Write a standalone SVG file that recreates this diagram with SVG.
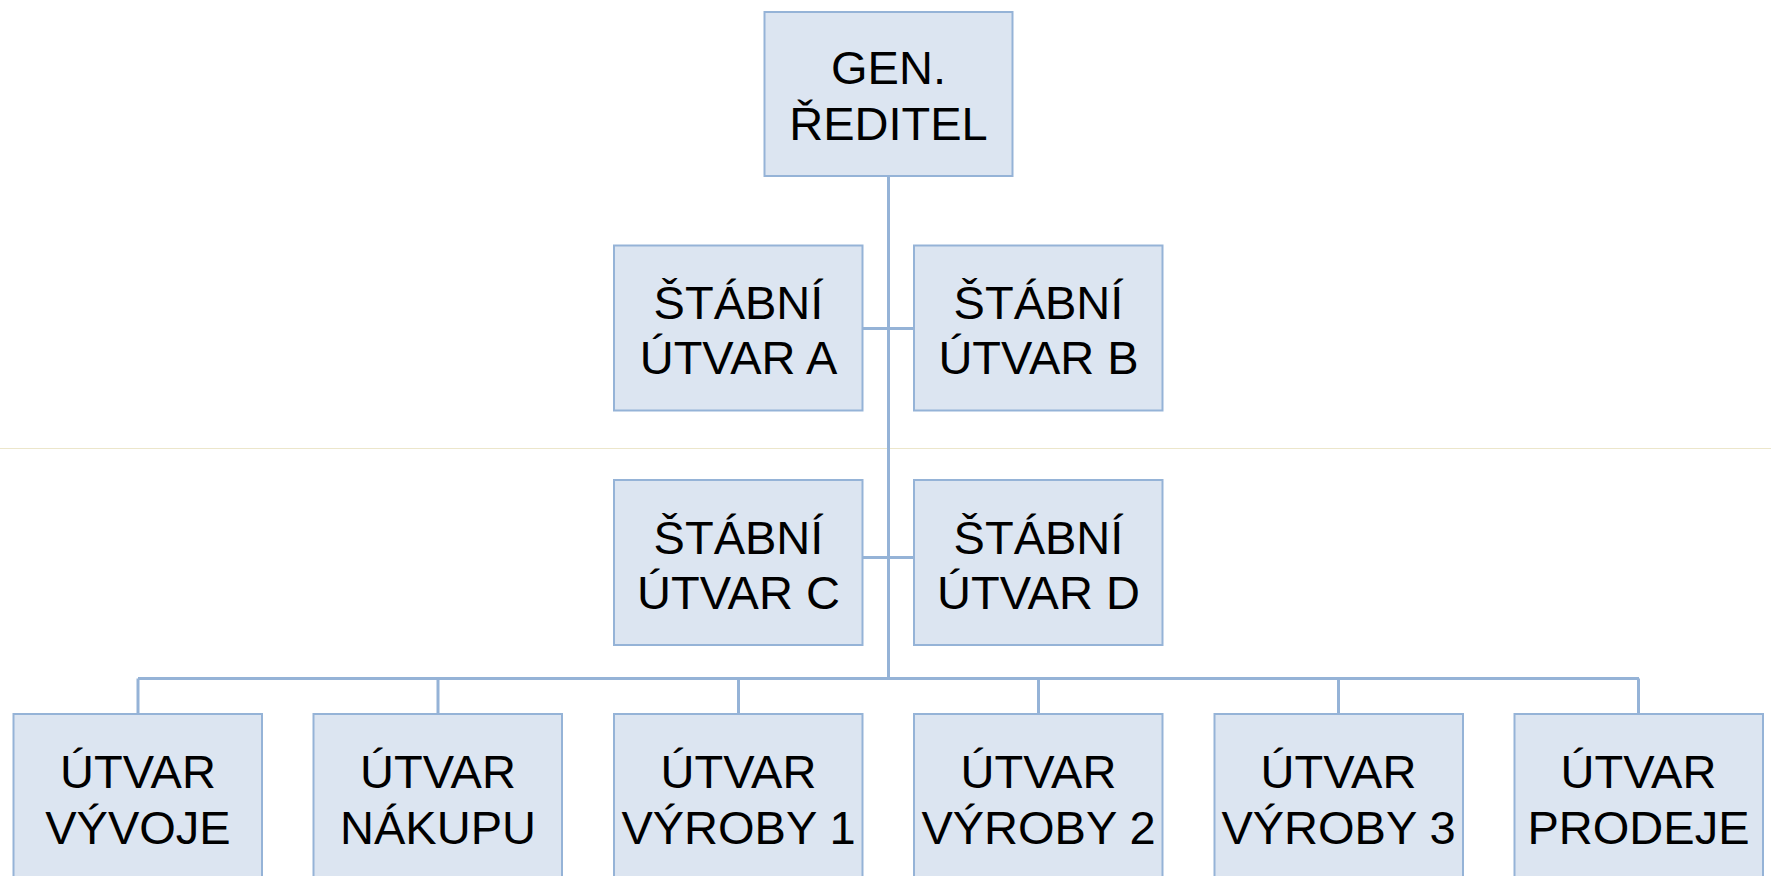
<svg xmlns="http://www.w3.org/2000/svg" width="1771" height="876" viewBox="0 0 1771 876">
  <style>
    .box { fill: #DCE5F1; stroke: #95B3D7; stroke-width: 2; }
    .lbl { font-family: "Liberation Sans", Arial, sans-serif; font-size: 47px; fill: #000; text-anchor: middle; }
    .link { fill: none; stroke: #95B3D7; stroke-width: 3; }
  </style>
  <rect width="1771" height="876" fill="#ffffff"/>

  <!-- faint horizontal guide across the sheet -->
  <line x1="0" y1="448.5" x2="1771" y2="448.5" stroke="#ECE6CB" stroke-width="1"/>

  <!-- connectors -->
  <g id="connectors" class="link">
    <line x1="888.5" y1="176" x2="888.5" y2="678.5"/>
    <line x1="863" y1="328.5" x2="914" y2="328.5"/>
    <line x1="863" y1="557.5" x2="914" y2="557.5"/>
    <line x1="138" y1="678.5" x2="1639" y2="678.5"/>
    <line x1="138" y1="678.5" x2="138" y2="714"/>
    <line x1="438" y1="678.5" x2="438" y2="714"/>
    <line x1="738.5" y1="678.5" x2="738.5" y2="714"/>
    <line x1="1038.5" y1="678.5" x2="1038.5" y2="714"/>
    <line x1="1338.5" y1="678.5" x2="1338.5" y2="714"/>
    <line x1="1638.5" y1="678.5" x2="1638.5" y2="714"/>
  </g>

  <!-- top -->
  <g id="gen-reditel">
    <rect class="box" x="764.5" y="12" width="248" height="164"/>
    <text class="lbl" x="888.5" y="84">GEN.</text>
    <text class="lbl" x="888.5" y="140">ŘEDITEL</text>
  </g>

  <!-- staff units -->
  <g id="stabni-a">
    <rect class="box" x="614" y="245.5" width="248.5" height="165"/>
    <text class="lbl" x="738.5" y="319">ŠTÁBNÍ</text>
    <text class="lbl" x="738.5" y="374">ÚTVAR A</text>
  </g>
  <g id="stabni-b">
    <rect class="box" x="914" y="245.5" width="248.5" height="165"/>
    <text class="lbl" x="1038.5" y="319">ŠTÁBNÍ</text>
    <text class="lbl" x="1038.5" y="374">ÚTVAR B</text>
  </g>
  <g id="stabni-c">
    <rect class="box" x="614" y="480" width="248.5" height="165"/>
    <text class="lbl" x="738.5" y="553.5">ŠTÁBNÍ</text>
    <text class="lbl" x="738.5" y="608.5">ÚTVAR C</text>
  </g>
  <g id="stabni-d">
    <rect class="box" x="914" y="480" width="248.5" height="165"/>
    <text class="lbl" x="1038.5" y="553.5">ŠTÁBNÍ</text>
    <text class="lbl" x="1038.5" y="608.5">ÚTVAR D</text>
  </g>

  <!-- line units -->
  <g id="utvar-vyvoje">
    <rect class="box" x="13.5" y="714" width="248.5" height="165"/>
    <text class="lbl" x="138" y="787.5">ÚTVAR</text>
    <text class="lbl" x="138" y="843.5">VÝVOJE</text>
  </g>
  <g id="utvar-nakupu">
    <rect class="box" x="313.5" y="714" width="248.5" height="165"/>
    <text class="lbl" x="438" y="787.5">ÚTVAR</text>
    <text class="lbl" x="438" y="843.5">NÁKUPU</text>
  </g>
  <g id="utvar-vyroby-1">
    <rect class="box" x="614" y="714" width="248.5" height="165"/>
    <text class="lbl" x="738.5" y="787.5">ÚTVAR</text>
    <text class="lbl" x="738.5" y="843.5">VÝROBY 1</text>
  </g>
  <g id="utvar-vyroby-2">
    <rect class="box" x="914" y="714" width="248.5" height="165"/>
    <text class="lbl" x="1038.5" y="787.5">ÚTVAR</text>
    <text class="lbl" x="1038.5" y="843.5">VÝROBY 2</text>
  </g>
  <g id="utvar-vyroby-3">
    <rect class="box" x="1214.5" y="714" width="248.5" height="165"/>
    <text class="lbl" x="1338.5" y="787.5">ÚTVAR</text>
    <text class="lbl" x="1338.5" y="843.5">VÝROBY 3</text>
  </g>
  <g id="utvar-prodeje">
    <rect class="box" x="1514.5" y="714" width="248.5" height="165"/>
    <text class="lbl" x="1638.5" y="787.5">ÚTVAR</text>
    <text class="lbl" x="1638.5" y="843.5">PRODEJE</text>
  </g>
</svg>
